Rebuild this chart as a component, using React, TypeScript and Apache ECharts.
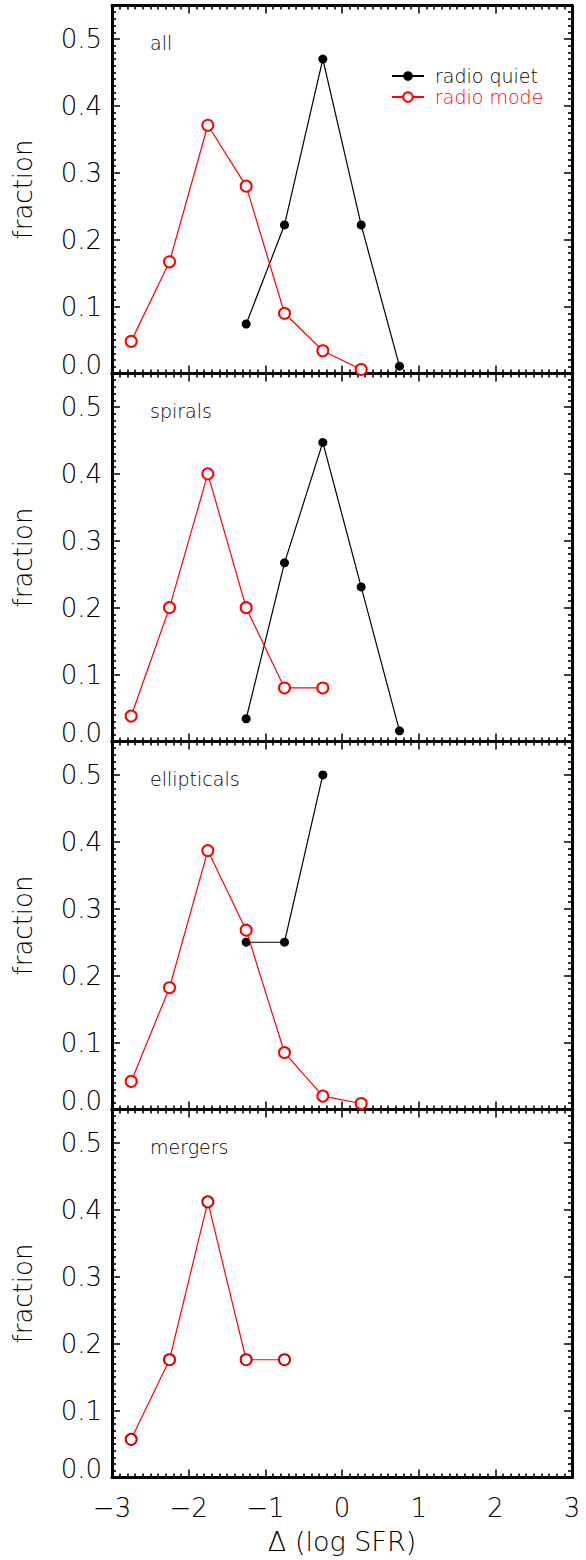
import React, { useEffect, useRef } from "react";
import * as echarts from "echarts";

const FONT = "DejaVu Sans";
const WEIGHT = 200;

// bin centres of Δ(log SFR)
const bins = [-2.75, -2.25, -1.75, -1.25, -0.75, -0.25, 0.25, 0.75];

const panelNames = ["all", "spirals", "ellipticals", "mergers"];

const allQuiet = [null, null, null, 0.074, 0.222, 0.47, 0.222, 0.011];
const allMode = [0.048, 0.167, 0.371, 0.28, 0.09, 0.034, 0.006, null];
const spiralQuiet = [null, null, null, 0.034, 0.267, 0.447, 0.231, 0.016];
const spiralMode = [0.038, 0.2, 0.4, 0.2, 0.08, 0.08, null, null];
const ellQuiet = [null, null, null, 0.25, 0.25, 0.5, null, null];
const ellMode = [0.042, 0.182, 0.387, 0.268, 0.085, 0.02, 0.009, null];
const mergerQuiet = [null, null, null, null, null, null, null, null];
const mergerMode = [0.057, 0.176, 0.412, 0.176, 0.176, null, null, null];

const quietSets = [allQuiet, spiralQuiet, ellQuiet, mergerQuiet];
const modeSets = [allMode, spiralMode, ellMode, mergerMode];

const xTicks = { min: -3, max: 3, interval: 1 };
const yTicks = { min: 0, max: 0.55, interval: 0.1 };

function pairs(vals: (number | null)[]) {
  return bins
    .map((b, k) => [b, vals[k]])
    .filter((d) => d[1] !== null && d[1] !== undefined);
}

export default function App() {
  const ref = useRef<HTMLDivElement>(null);

  useEffect(() => {
    if (!ref.current) return;
    const chart = echarts.init(ref.current, null, { renderer: "svg" });

    const tops = [5.5, 373.5, 741.5, 1109.5];
    const H = 368;

    const tickCommon = {
      axisLine: { show: true, onZero: false, lineStyle: { color: "#000", width: 3 } },
      axisTick: { show: true, inside: true, length: 8, lineStyle: { color: "#000", width: 1.5 } },
      minorTick: { show: true, splitNumber: 10, length: 4, lineStyle: { color: "#000", width: 1.6 } },
      splitLine: { show: false },
      minorSplitLine: { show: false },
    };

    const txt = { fontFamily: FONT, fontWeight: WEIGHT, color: "#000" };

    const grids: any[] = [];
    const xAxes: any[] = [];
    const yAxes: any[] = [];
    const series: any[] = [];
    const graphics: any[] = [];

    for (let i = 0; i < 4; i++) {
      grids.push({ left: 112, width: 460, top: tops[i], height: H, containLabel: false });
      const last = i === 3;
      xAxes.push({
        type: "value",
        gridIndex: i,
        position: "bottom",
        ...xTicks,
        ...tickCommon,
        axisLabel: {
          show: last,
          ...txt,
          fontSize: 26,
          margin: 17,
          formatter: (v: number) => (v < 0 ? "\u2212" + Math.abs(v) : String(v)),
        },
        name: last ? "\u0394 (log SFR)" : "",
        nameLocation: "middle",
        nameGap: 50,
        nameTextStyle: { ...txt, fontSize: 27 },
      });
      xAxes.push({
        type: "value",
        gridIndex: i,
        position: "top",
        ...xTicks,
        ...tickCommon,
        axisLabel: { show: false },
      });
      yAxes.push({
        type: "value",
        gridIndex: i,
        position: "left",
        ...yTicks,
        ...tickCommon,
        axisLabel: {
          show: true,
          showMaxLabel: false,
          ...txt,
          fontSize: 26,
          margin: 10,
          formatter: (v: number) => {
            if (v > 0.52) return "";
            if (Math.abs(v) < 1e-9) return "{z|0.0}";
            return v.toFixed(1);
          },
          rich: {
            z: { ...txt, fontSize: 26, padding: [0, 0, 18, 0] },
          },
        },
        name: "fraction",
        nameLocation: "middle",
        nameGap: 76,
        nameRotate: 90,
        nameTextStyle: { ...txt, fontSize: 26 },
      });
      yAxes.push({
        type: "value",
        gridIndex: i,
        position: "right",
        ...yTicks,
        ...tickCommon,
        axisLabel: { show: false },
      });

      const q = pairs(quietSets[i]);
      if (q.length) {
        series.push({
          type: "line",
          name: "radio quiet",
          xAxisIndex: 2 * i,
          yAxisIndex: 2 * i,
          data: q,
          symbol: "circle",
          symbolSize: 9,
          itemStyle: { color: "#000" },
          lineStyle: { color: "#000", width: 1.2 },
          z: 3,
        });
      }
      series.push({
        type: "line",
        name: "radio mode",
        xAxisIndex: 2 * i,
        yAxisIndex: 2 * i,
        data: pairs(modeSets[i]),
        symbol: "emptyCircle",
        symbolSize: 11,
        itemStyle: { color: last ? "#d00000" : "#ff0000", borderWidth: 1.1 },
        lineStyle: { color: "#ff0000", width: 1.2 },
        z: 4,
      });

      graphics.push({
        type: "text",
        left: 150,
        top: tops[i] + 28,
        style: { text: panelNames[i], fontFamily: FONT, fontWeight: WEIGHT, fontSize: 19, fill: "#000" },
      });
    }

    chart.setOption({
      animation: false,
      backgroundColor: "#fff",
      grid: grids,
      xAxis: xAxes,
      yAxis: yAxes,
      series,
      graphic: graphics,
      legend: {
        orient: "vertical",
        left: 386,
        top: 61,
        itemWidth: 32,
        itemHeight: 12,
        itemGap: 1,
        selectedMode: false,
        textStyle: { fontFamily: FONT, fontWeight: WEIGHT, fontSize: 19, lineHeight: 20, padding: [0, 0, 0, 6] },
        data: [
          { name: "radio quiet", textStyle: { color: "#000" } },
          { name: "radio mode", textStyle: { color: "#ff0000" } },
        ],
      },
    });

    return () => chart.dispose();
  }, []);

  return (
    <div
      ref={ref}
      style={{ position: "fixed", left: 0, top: 0, width: 586, height: 1560, background: "#fff" }}
    />
  );
}
